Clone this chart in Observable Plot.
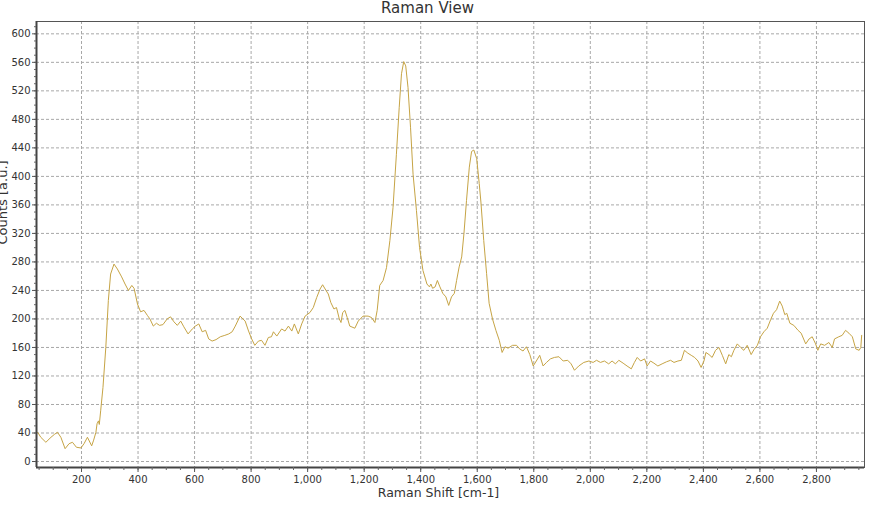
<!DOCTYPE html>
<html><head><meta charset="utf-8">
<script src="https://cdn.jsdelivr.net/npm/d3@7"></script>
<script src="https://cdn.jsdelivr.net/npm/@observablehq/plot@0.6"></script>
<style>html,body{margin:0;padding:0;background:#fff;} svg{display:block}</style>
</head><body><div id="chart"></div>
<script>
const title = "Raman View";
const xLabel = "Raman Shift [cm-1]";
const yLabel = "Counts [a.u.]";
const xTicks = [200, 400, 600, 800, 1000, 1200, 1400, 1600, 1800, 2000, 2200, 2400, 2600, 2800];
const yTicks = [0, 40, 80, 120, 160, 200, 240, 280, 320, 360, 400, 440, 480, 520, 560, 600];

const ramanShift = [
  42, 45, 56, 74, 92, 104, 115, 127, 142, 156, 168, 182, 198, 209, 221, 236, 243, 251, 255, 260, 263, 268, 276, 286, 295, 303, 315, 327, 342, 354, 366, 378, 386, 398, 409, 421, 433, 442, 454, 465, 476, 488, 503, 515, 527, 539, 551, 562, 577, 592, 603, 615, 627, 639, 650, 662, 676, 691, 707, 721, 733,
  744, 761, 779, 791, 802, 813, 826, 837, 849, 861, 872, 879, 891, 908, 920, 932, 944, 953, 967, 979, 991, 1008, 1020, 1032, 1044, 1053, 1065, 1073, 1082, 1093, 1102, 1112, 1118, 1124, 1132, 1140, 1149, 1167, 1179, 1196, 1214, 1226, 1238, 1246, 1255, 1267, 1279, 1291, 1302, 1314, 1324, 1332, 1340, 1347, 1355, 1364, 1373, 1385, 1396, 1408, 1422,
  1431, 1436, 1442, 1451, 1459, 1468, 1478, 1489, 1499, 1509, 1519, 1527, 1536, 1545, 1553, 1562, 1572, 1580, 1588, 1598, 1607, 1613, 1623, 1633, 1642, 1654, 1666, 1678, 1688, 1698, 1709, 1725, 1739, 1750, 1762, 1774, 1786,
  1798, 1809, 1821, 1833, 1845, 1859, 1873, 1889, 1904, 1920, 1932, 1944, 1959, 1977, 1995, 2010, 2022, 2036, 2050, 2065, 2077, 2089, 2101, 2116, 2130, 2145, 2156, 2166, 2178, 2192, 2201, 2213, 2225, 2239, 2254, 2270, 2284, 2296, 2310, 2322, 2333, 2345, 2357, 2369, 2381, 2392, 2402, 2409, 2420, 2431, 2443, 2455, 2467, 2479, 2490, 2499, 2508, 2520, 2532, 2543, 2555, 2569, 2579, 2591, 2602, 2614, 2626, 2638, 2648, 2659, 2670, 2679, 2688, 2695, 2706, 2720, 2735, 2746, 2762, 2774, 2785, 2797, 2805, 2815, 2829, 2844, 2856, 2864, 2879, 2891, 2903, 2915, 2927, 2939, 2951, 2957, 2960
];
const counts = [
  40, 41, 34, 27, 34, 38, 41, 34, 18, 25, 27, 20, 19, 25, 34, 22, 30, 41, 53, 57, 52, 72, 104, 160, 226, 263, 277, 270, 259, 249, 240, 247, 243, 221, 210, 212, 205, 200, 190, 194, 191, 192, 200, 203, 196, 191, 197, 189, 179, 186, 190, 193, 182, 184, 172, 169, 171, 175, 177, 179, 182,
  190, 204, 197, 183, 172, 163, 169, 170, 163, 174, 175, 182, 176, 186, 183, 190, 183, 193, 179, 193, 204, 209, 216, 230, 242, 248, 240, 235, 223, 214, 216, 200, 195, 209, 212, 202, 190, 187, 197, 204, 204, 202, 195, 212, 247, 254, 272, 310, 356, 431, 497, 544, 561, 555, 525, 469, 403, 352, 300, 268, 249,
  245, 249, 243, 245, 254, 245, 236, 231, 219, 231, 236, 254, 273, 287, 320, 366, 413, 435, 437, 425, 390, 364, 310, 264, 222, 200, 184, 170, 153, 161, 159, 163, 163, 158, 155, 161, 150,
  134, 141, 149, 134, 139, 144, 146, 147, 141, 142, 137, 128, 134, 139, 141, 139, 142, 139, 141, 137, 141, 137, 142, 138, 134, 130, 139, 146, 141, 144, 134, 141, 138, 134, 137, 140, 142, 139, 141, 142, 156, 152, 149, 146, 141, 132, 141, 153, 150, 146, 156, 160, 149, 137, 150, 147, 156, 165, 160, 156, 163, 150, 157, 163, 175, 182, 187, 199, 208, 213, 225, 218, 206, 208, 194, 191, 184, 180, 165, 172, 175, 165, 156, 165, 163, 167, 160, 172, 175, 177, 184, 180, 175, 158, 156, 160, 177
];

const data = ramanShift.map((x, i) => ({x, y: counts[i]}));
const xDomain = [40.8, 2970];
const yDomain = [-8.4, 617.3];
const xMinor = d3.range(50, 2970, 50);
const yMinor = d3.range(0, 617, 10);

const chart = Plot.plot({
  width: 882,
  height: 506,
  marginLeft: 36,
  marginRight: 18,
  marginTop: 21,
  marginBottom: 39,
  style: {fontFamily: "'DejaVu Sans', Verdana, sans-serif", fontSize: "10px", color: "#333", background: "#fff", overflow: "visible"},
  x: {domain: xDomain, label: null},
  y: {domain: yDomain, label: null},
  marks: [
    Plot.gridX(xTicks, {stroke: "#a8a8a8", strokeOpacity: 1, strokeDasharray: "3,2"}),
    Plot.gridY(yTicks, {stroke: "#a8a8a8", strokeOpacity: 1, strokeDasharray: "3,2"}),
    Plot.line(data, {x: "x", y: "y", stroke: "#c6a445", strokeWidth: 1}),
    Plot.frame({stroke: "#555"}),
    Plot.ruleX([xDomain[0]], {stroke: "#444", strokeWidth: 2}),
    Plot.ruleY([yDomain[0]], {stroke: "#444", strokeWidth: 2}),
    Plot.axisX(xMinor, {tickSize: 3, tickFormat: () => "", stroke: "#666"}),
    Plot.axisY(yMinor, {tickSize: 2, tickFormat: () => "", stroke: "#666"}),
    Plot.axisX(xTicks, {tickSize: 5, tickPadding: 3, tickFormat: d3.format(","), stroke: "#555", fill: "#333"}),
    Plot.axisY(yTicks, {tickSize: 4, tickPadding: 2, stroke: "#555", fill: "#333"}),
    Plot.text([title], {text: d => d, frameAnchor: "top", dx: -23, dy: -19, fontSize: 15, fill: "#333"}),
    Plot.text([xLabel], {text: d => d, frameAnchor: "bottom", dy: 29, dx: -12, fontSize: 12.5, fill: "#333"}),
    Plot.text([yLabel], {text: d => d, frameAnchor: "left", dx: -34, rotate: -90, fontSize: 13, fill: "#333"})
  ]
});
document.getElementById("chart").appendChild(chart);
</script>
</body></html>
